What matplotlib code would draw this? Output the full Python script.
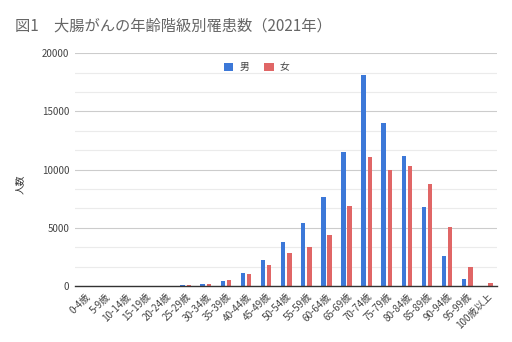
import matplotlib
matplotlib.use("Agg")
import matplotlib.pyplot as plt
import numpy as np
from matplotlib.ticker import MultipleLocator

plt.rcParams['font.family'] = ['Noto Sans CJK JP', 'DejaVu Sans']

categories = ["0-4歳", "5-9歳", "10-14歳", "15-19歳", "20-24歳", "25-29歳", "30-34歳",
              "35-39歳", "40-44歳", "45-49歳", "50-54歳", "55-59歳", "60-64歳", "65-69歳",
              "70-74歳", "75-79歳", "80-84歳", "85-89歳", "90-94歳", "95-99歳", "100歳以上"]
male = [5, 5, 10, 15, 35, 90, 160, 460, 1070, 2270, 3790, 5420, 7680, 11550,
        18140, 13990, 11200, 6820, 2580, 575, 10]
female = [5, 5, 10, 15, 35, 90, 150, 490, 1000, 1840, 2790, 3380, 4385, 6880,
          11120, 9975, 10320, 8800, 5070, 1630, 260]
series_names = ["男", "女"]
colors = ["#3c78d8", "#e06666"]

fig = plt.figure(figsize=(5.12, 3.42), dpi=100)
ax = fig.add_axes([0.1465, 0.164, 0.825, 0.68])

x = np.arange(len(categories))
w = 0.22
off = 0.155
ax.bar(x - off, male, width=w, color=colors[0], label=series_names[0], zorder=3)
ax.bar(x + off, female, width=w, color=colors[1], label=series_names[1], zorder=3)

ax.set_xlim(-0.5, len(categories) - 0.5)
ax.set_ylim(0, 20000)
ax.yaxis.set_major_locator(MultipleLocator(5000))
ax.yaxis.set_minor_locator(MultipleLocator(5000 / 3))
ax.grid(which='major', axis='y', color='#cccccc', linewidth=0.8, zorder=0)
ax.grid(which='minor', axis='y', color='#ebebeb', linewidth=0.8, zorder=0)
ax.set_axisbelow(True)
for s in ['top', 'right', 'left']:
    ax.spines[s].set_visible(False)
ax.spines['bottom'].set_color('#333333')
ax.spines['bottom'].set_linewidth(1.0)
ax.spines['bottom'].set_zorder(4)
ax.tick_params(axis='both', which='both', length=0)
ax.tick_params(axis='y', labelsize=7, labelcolor='#444444', pad=4)
ax.set_xticks(x)
ax.set_xticklabels(categories, rotation=45, ha='right', rotation_mode='anchor',
                   fontsize=7, color='#444444')
ax.tick_params(axis='x', pad=4)

fig.text(20 / 512, 0.46, "人数", rotation=90, fontsize=7, color='#333333',
         ha='center', va='center')

fig.text(15 / 512, 1 - 26 / 342, "図1　大腸がんの年齢階級別罹患数（2021年）", fontsize=11,
         color='#666666', ha='left', va='center')

leg = ax.legend(loc='upper center', bbox_to_anchor=(0.43, 1.0), ncol=2, frameon=False,
                fontsize=7, handlelength=0.95, handleheight=0.95, columnspacing=1.6,
                handletextpad=0.6)
for t in leg.get_texts():
    t.set_color('#444444')

fig.savefig("out.png", dpi=100)
